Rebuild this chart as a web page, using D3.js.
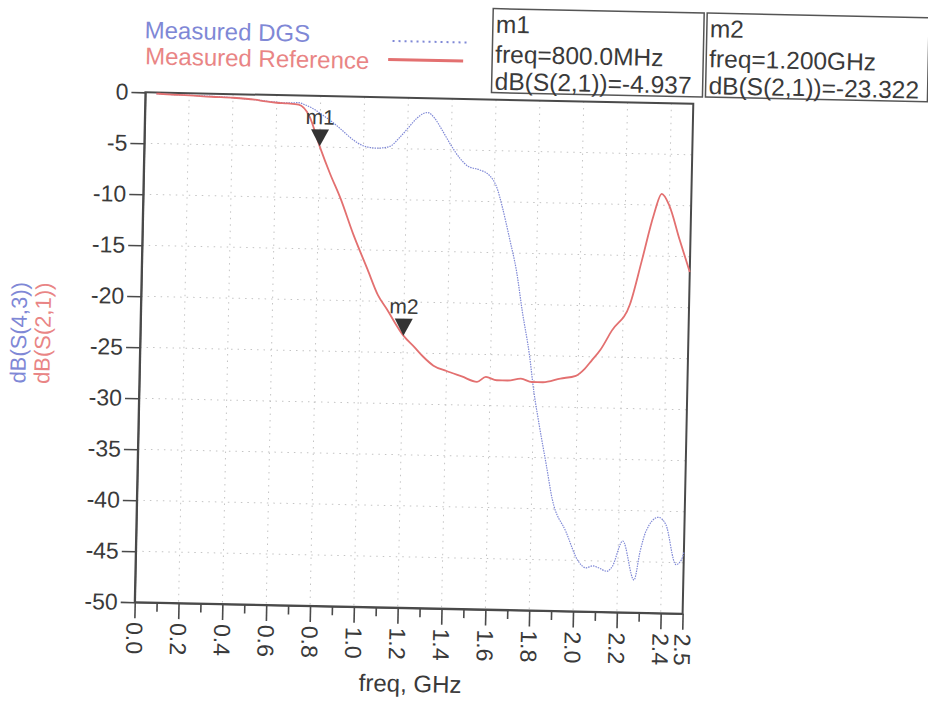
<!DOCTYPE html>
<html>
<head>
<meta charset="utf-8">
<script src="https://cdn.jsdelivr.net/npm/d3@7"></script>
<style>
  body { margin: 0; background: #fff; }
  svg { font-family: "Liberation Sans", Arial, sans-serif; }
</style>
</head>
<body>
<script>
const width = 928;
const height = 716;

// S(2,1) - Measured Reference
const refFreq = [0.05, 0.1, 0.2, 0.3, 0.4, 0.5, 0.55, 0.6, 0.65, 0.7, 0.75, 0.8, 0.85, 0.9, 0.96, 1.03, 1.08, 1.12, 1.2, 1.25, 1.29, 1.34, 1.4, 1.47, 1.54, 1.58, 1.63, 1.68, 1.74, 1.79, 1.84, 1.92, 1.99, 2.03, 2.06, 2.1, 2.15, 2.23, 2.28, 2.33, 2.365, 2.4, 2.45, 2.5];
const refDb = [-0.1, -0.15, -0.2, -0.3, -0.35, -0.5, -0.65, -0.75, -0.8, -0.9, -2.0, -4.937, -7.6, -10.0, -13.4, -16.9, -19.4, -20.7, -23.322, -24.4, -25.3, -26.2, -26.7, -27.2, -27.7, -27.2, -27.5, -27.5, -27.3, -27.6, -27.6, -27.2, -26.9, -26.2, -25.4, -24.3, -22.4, -19.8, -15.5, -11.0, -8.9, -10.0, -13.3, -16.5];

// S(4,3) - Measured DGS
const dgsFreq = [0.05, 0.1, 0.2, 0.3, 0.4, 0.5, 0.6, 0.65, 0.7, 0.73, 0.77, 0.82, 0.86, 0.9, 0.95, 1.0, 1.06, 1.12, 1.16, 1.2, 1.24, 1.27, 1.29, 1.32, 1.36, 1.4, 1.44, 1.48, 1.53, 1.58, 1.61, 1.64, 1.675, 1.71, 1.74, 1.777, 1.8, 1.828, 1.864, 1.894, 1.96, 2.02, 2.055, 2.085, 2.115, 2.15, 2.175, 2.22, 2.275, 2.3, 2.325, 2.38, 2.415, 2.465, 2.49, 2.5];
const dgsDb = [-0.1, -0.15, -0.2, -0.25, -0.35, -0.5, -0.7, -0.75, -0.7, -0.9, -1.3, -2.0, -2.6, -3.3, -4.2, -4.8, -5.0, -4.8, -4.0, -3.0, -2.0, -1.5, -1.4, -1.9, -3.2, -4.6, -5.8, -6.6, -6.9, -7.5, -8.5, -10.6, -13.6, -16.8, -20.7, -25.0, -28.5, -31.8, -35.7, -39.0, -42.2, -45.1, -45.7, -45.5, -45.7, -46.0, -45.5, -43.0, -46.8, -44.0, -42.0, -40.6, -41.3, -45.2, -44.7, -44.0];

const markerNames = ["m1", "m2"];
const markerFreq = [0.8, 1.2];
const markerDb = [-4.937, -23.322];
const markerFreqText = ["800.0MHz", "1.200GHz"];

const xMajor = [0, 0.2, 0.4, 0.6, 0.8, 1.0, 1.2, 1.4, 1.6, 1.8, 2.0, 2.2, 2.4, 2.5];
const xMinor = [0.1, 0.3, 0.5, 0.7, 0.9, 1.1, 1.3, 1.5, 1.7, 1.9, 2.1, 2.3];
const yMajor = [0, -5, -10, -15, -20, -25, -30, -35, -40, -45, -50];

const blue = "#7f88d6";
const red = "#e37070";
const ink = "#3a3a3a";

const x = d3.scaleLinear().domain([0, 2.5]).range([140, 688]);
const y = d3.scaleLinear().domain([-50, 0]).range([608, 98]);

const svg = d3.select("body").append("svg")
    .attr("width", width)
    .attr("height", height);

// the original is a slightly tilted photo of the plot
const root = svg.append("g").attr("transform", "rotate(1.2, 413.5, 353.5)");

// grid
root.append("g").selectAll("line")
  .data(xMajor.filter(d => d > 0 && d < 2.5))
  .enter().append("line")
    .attr("x1", d => x(d)).attr("x2", d => x(d))
    .attr("y1", y(0)).attr("y2", y(-50))
    .attr("stroke", "#c4c4c4").attr("stroke-dasharray", "1.5,5");
root.append("g").selectAll("line")
  .data(yMajor.filter(d => d < 0 && d > -50))
  .enter().append("line")
    .attr("x1", x(0)).attr("x2", x(2.5))
    .attr("y1", d => y(d)).attr("y2", d => y(d))
    .attr("stroke", "#c4c4c4").attr("stroke-dasharray", "1.5,5");

// frame
root.append("rect")
    .attr("x", x(0)).attr("y", y(0))
    .attr("width", x(2.5) - x(0)).attr("height", y(-50) - y(0))
    .attr("fill", "none").attr("stroke", "#4a4a4a").attr("stroke-width", 2);

// axes (plain hyphen for negatives, like the original)
const yAxis = root.append("g")
    .attr("transform", `translate(${x(0)},0)`)
    .call(d3.axisLeft(y).tickValues(yMajor).tickSize(14).tickSizeOuter(0).tickPadding(3)
      .tickFormat(d => String(d)));
yAxis.selectAll("text").attr("font-size", 23).attr("fill", ink);

const xAxis = root.append("g")
    .attr("transform", `translate(0,${y(-50)})`)
    .call(d3.axisBottom(x).tickValues(xMajor).tickSize(16).tickSizeOuter(0)
      .tickFormat(d => d.toFixed(1)));
xAxis.selectAll("text")
    .attr("font-size", 23).attr("fill", ink)
    .attr("x", 20).attr("y", 0).attr("dy", "0.36em")
    .attr("transform", "rotate(90)")
    .style("text-anchor", "start");

root.append("g")
    .attr("transform", `translate(0,${y(-50)})`)
    .call(d3.axisBottom(x).tickValues(xMinor).tickSize(9).tickFormat(""))
    .call(g => g.select(".domain").remove());

root.selectAll(".domain, .tick line").attr("stroke", "#4a4a4a").attr("stroke-width", 1.6);

// axis titles
root.append("text")
    .attr("x", 417).attr("y", 692)
    .attr("text-anchor", "middle").attr("font-size", 24).attr("fill", ink)
    .text("freq, GHz");
root.append("text")
    .attr("transform", "translate(26,341) rotate(-90)")
    .attr("text-anchor", "middle").attr("font-size", 22).attr("fill", blue)
    .text("dB(S(4,3))");
root.append("text")
    .attr("transform", "translate(50,341) rotate(-90)")
    .attr("text-anchor", "middle").attr("font-size", 22).attr("fill", "#e98585")
    .text("dB(S(2,1))");

// curves
const line = d3.line()
    .x(d => x(d[0]))
    .y(d => y(d[1]))
    .curve(d3.curveMonotoneX);

root.append("path")
    .datum(dgsFreq.map((f, i) => [f, dgsDb[i]]))
    .attr("d", line)
    .attr("fill", "none").attr("stroke", blue)
    .attr("stroke-width", 1.2).attr("stroke-dasharray", "1.5,1");

root.append("path")
    .datum(refFreq.map((f, i) => [f, refDb[i]]))
    .attr("d", line)
    .attr("fill", "none").attr("stroke", red)
    .attr("stroke-width", 1.8);

// markers on the trace
const mk = root.append("g").selectAll("g")
  .data(markerNames)
  .enter().append("g")
    .attr("transform", (d, i) => `translate(${x(markerFreq[i])},${y(markerDb[i])})`);
mk.append("path")
    .attr("d", "M0,0 L-9,-17 L9,-17 Z")
    .attr("fill", "#333");
mk.append("text")
    .attr("y", -22)
    .attr("text-anchor", "middle").attr("font-size", 21).attr("fill", ink)
    .text(d => d);

// marker readout boxes
const boxX = [486, 700];
const boxW = [211, 222];
const box = root.append("g").selectAll("g")
  .data(markerNames)
  .enter().append("g")
    .attr("transform", (d, i) => `translate(${boxX[i]},7)`);
box.append("rect")
    .attr("width", (d, i) => boxW[i]).attr("height", 84)
    .attr("fill", "none").attr("stroke", "#555").attr("stroke-width", 1.5);
box.append("text")
    .attr("x", 3).attr("font-size", 24.5).attr("fill", ink)
    .selectAll("tspan")
    .data((d, i) => [d, "freq=" + markerFreqText[i], "dB(S(2,1))=" + markerDb[i].toFixed(3)])
    .enter().append("tspan")
      .attr("x", 3)
      .attr("y", (t, j) => [24, 54, 81][j])
      .text(t => t);

// legend
const legend = root.append("g").attr("font-size", 24);
legend.append("text").attr("x", 138).attr("y", 44).attr("fill", blue).text("Measured DGS");
legend.append("text").attr("x", 139).attr("y", 70).attr("fill", "#e98585").text("Measured Reference");
legend.append("line")
    .attr("x1", 386).attr("x2", 463).attr("y1", 41.5).attr("y2", 41.5)
    .attr("stroke", blue).attr("stroke-width", 2).attr("stroke-dasharray", "2,4");
legend.append("line")
    .attr("x1", 382).attr("x2", 457).attr("y1", 60).attr("y2", 60)
    .attr("stroke", red).attr("stroke-width", 3);
</script>
</body>
</html>
